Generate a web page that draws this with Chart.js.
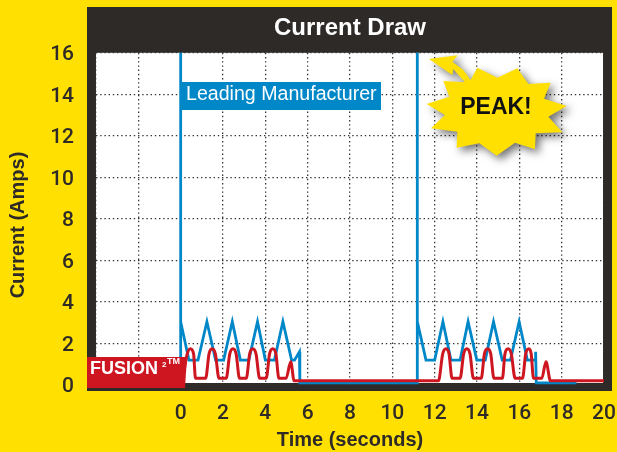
<!DOCTYPE html>
<html>
<head>
<meta charset="utf-8">
<title>Current Draw</title>
<script src="https://cdn.jsdelivr.net/npm/chart.js@4"></script>
<style>
html, body { margin: 0; padding: 0; background: #ffe000; }
canvas { display: block; }
</style>
</head>
<body>
<canvas id="currentChart" width="617" height="452"></canvas>
<script>
const leadingTimes = [0, 0, 0, 0.39, 0.82, 1.24, 1.65, 2.03, 2.44, 2.82, 3.22, 3.63, 4.0, 4.43, 4.83, 5.24, 5.38, 5.61, 5.63, 11.18, 11.18, 11.18, 11.59, 12.0, 12.39, 12.77, 13.2, 13.58, 13.99, 14.39, 14.78, 15.19, 15.58, 15.99, 16.38, 16.75, 16.77, 16.8, 18.7];
const leadingAmps = [1.2, 16.5, 3.05, 1.2, 1.2, 3.05, 1.2, 1.2, 3.05, 1.2, 1.2, 3.05, 1.2, 1.2, 3.05, 1.2, 1.2, 1.6, 0.1, 0.1, 16.5, 3.05, 1.2, 1.2, 3.05, 1.2, 1.2, 3.05, 1.2, 1.2, 3.05, 1.2, 1.2, 3.05, 1.2, 1.2, 1.6, 0.1, 0.1];

const fusionTimes = [0.1, 0.31, 0.46, 0.61, 0.7, 1.18, 1.34, 1.49, 1.64, 1.81, 2.15, 2.32, 2.47, 2.62, 2.78, 3.1, 3.26, 3.41, 3.56, 3.73, 4.04, 4.2, 4.35, 4.5, 4.64, 4.98, 5.2, 5.36, 12.18, 12.38, 12.53, 12.68, 12.82, 13.2, 13.37, 13.52, 13.67, 13.83, 14.2, 14.35, 14.5, 14.65, 14.8, 15.2, 15.32, 15.47, 15.62, 15.8, 16.15, 16.3, 16.45, 16.56, 16.67, 17.06, 17.26, 17.47, 20];
const fusionAmps = [0.32, 1.5, 1.75, 1.5, 0.32, 0.32, 1.5, 1.75, 1.5, 0.32, 0.32, 1.5, 1.75, 1.5, 0.32, 0.32, 1.5, 1.75, 1.5, 0.32, 0.32, 1.5, 1.75, 1.5, 0.32, 0.32, 1.12, 0.2, 0.2, 1.5, 1.75, 1.5, 0.32, 0.32, 1.5, 1.75, 1.5, 0.32, 0.32, 1.5, 1.75, 1.5, 0.32, 0.32, 1.5, 1.75, 1.5, 0.32, 0.32, 1.5, 1.75, 1.5, 0.32, 0.32, 1.12, 0.2, 0.2];

const toPoints = (times, amps) => times.map((t, i) => ({ x: t, y: amps[i] }));

const fontName = '"Liberation Sans", Arial, sans-serif';
const tickFontName = 'Roboto, "Liberation Sans", sans-serif';
const inkColor = '#2e2a28';

const starPoints = [[232,203],[292,233],[352,205],[385,252],[452,248],[432,296],[500,318],[445,350],[487,397],[407,400],[405,448],[345,428],[290,467],[238,430],[170,443],[172,395],[93,385],[135,345],[80,312],[148,290],[130,243],[195,247],[178,228],[160,207],[157,225],[87,177],[173,166],[157,185],[190,210],[212,240]];

// frame behind the plot, labels and the star on top of it
const framePlugin = {
    id: 'frame',
    beforeDraw(chart) {
        const ctx = chart.ctx;
        const a = chart.chartArea;
        ctx.save();
        ctx.fillStyle = '#ffe000';
        ctx.fillRect(0, 0, chart.width, chart.height);
        ctx.fillStyle = inkColor;
        ctx.fillRect(87, 7, 525, 384);
        ctx.fillStyle = '#ffffff';
        ctx.fillRect(a.left, a.top, a.right - a.left - 1, a.bottom - a.top - 2);
        ctx.restore();
    },
    afterDatasetsDraw(chart) {
        const ctx = chart.ctx;
        ctx.save();

        ctx.fillStyle = '#0087c8';
        ctx.fillRect(180, 82, 201, 28);
        ctx.fillStyle = '#ffffff';
        ctx.font = '19.6px ' + fontName;
        ctx.textBaseline = 'middle';
        ctx.textAlign = 'left';
        ctx.fillText('Leading Manufacturer', 186, 95);

        ctx.fillStyle = '#ce1621';
        ctx.beginPath();
        ctx.moveTo(87, 357);
        ctx.lineTo(187, 357);
        ctx.lineTo(185, 388);
        ctx.lineTo(87, 388);
        ctx.closePath();
        ctx.fill();
        ctx.fillStyle = '#ffffff';
        ctx.font = 'bold 18px ' + fontName;
        ctx.fillText('FUSION', 90, 369);
        ctx.font = 'bold 8px ' + fontName;
        ctx.fillText('2', 162, 365);
        ctx.font = 'bold 9px ' + fontName;
        ctx.fillText('TM', 167, 362);

        ctx.save();
        ctx.shadowColor = 'rgba(0,0,0,0.55)';
        ctx.shadowBlur = 8;
        ctx.shadowOffsetX = 4;
        ctx.shadowOffsetY = 4;
        ctx.fillStyle = '#ffe000';
        ctx.beginPath();
        starPoints.forEach((p, i) => {
            const x = 400 + p[0] / 3;
            const y = p[1] / 3;
            if (i === 0) ctx.moveTo(x, y); else ctx.lineTo(x, y);
        });
        ctx.closePath();
        ctx.fill();
        ctx.restore();

        ctx.fillStyle = '#111111';
        ctx.font = 'bold 23px ' + fontName;
        ctx.textAlign = 'center';
        ctx.fillText('PEAK!', 496, 108);

        // y title sits a bit below the middle of the plot in the original
        ctx.fillStyle = inkColor;
        ctx.font = 'bold 20px ' + fontName;
        ctx.translate(18, 225);
        ctx.rotate(-Math.PI / 2);
        ctx.fillText('Current (Amps)', 0, 0);
        ctx.restore();
    }
};

const gridStyle = {
    color: '#333333',
    lineWidth: 1.3,
    drawTicks: false
};
const borderStyle = { display: false, dash: [1.4, 2.8] };

new Chart(document.getElementById('currentChart'), {
    type: 'line',
    data: {
        datasets: [{
            label: 'FUSION2',
            data: toPoints(fusionTimes, fusionAmps),
            borderColor: '#ce1621',
            borderWidth: 3,
            pointRadius: 0,
            cubicInterpolationMode: 'monotone'
        }, {
            label: 'Leading Manufacturer',
            data: toPoints(leadingTimes, leadingAmps),
            borderColor: '#0087c8',
            borderWidth: 2.8,
            pointRadius: 0,
            tension: 0
        }]
    },
    options: {
        responsive: false,
        animation: false,
        layout: { autoPadding: false, padding: { left: 0, right: 13, top: 0, bottom: 0 } },
        plugins: {
            legend: { display: false },
            tooltip: { enabled: false },
            title: {
                display: true,
                text: 'Current Draw',
                color: '#ffffff',
                fullSize: false,
                font: { family: fontName, size: 24, weight: 'bold' },
                padding: { top: 14, bottom: 10 }
            }
        },
        scales: {
            x: {
                type: 'linear',
                min: -4,
                max: 20,
                afterFit: scale => {
                    scale.height = 67;
                    scale.paddingLeft = 0;
                    scale.paddingRight = 0;
                },
                grid: gridStyle,
                border: borderStyle,
                ticks: {
                    stepSize: 2,
                    color: inkColor,
                    padding: 16,
                    maxRotation: 0,
                    font: { family: tickFontName, size: 21, weight: '500' },
                    callback: v => (v < 0 ? '' : v)
                },
                title: {
                    display: true,
                    text: 'Time (seconds)',
                    color: inkColor,
                    font: { family: fontName, size: 20, weight: 'bold' },
                    padding: { top: 0, bottom: 0 }
                }
            },
            y: {
                min: 0,
                max: 16,
                afterFit: scale => { scale.width = 96; },
                grid: gridStyle,
                border: borderStyle,
                ticks: {
                    stepSize: 2,
                    color: inkColor,
                    padding: 22,
                    labelOffset: 2,
                    font: { family: tickFontName, size: 21, weight: '500' }
                }
            }
        }
    },
    plugins: [framePlugin]
});
</script>
</body>
</html>
